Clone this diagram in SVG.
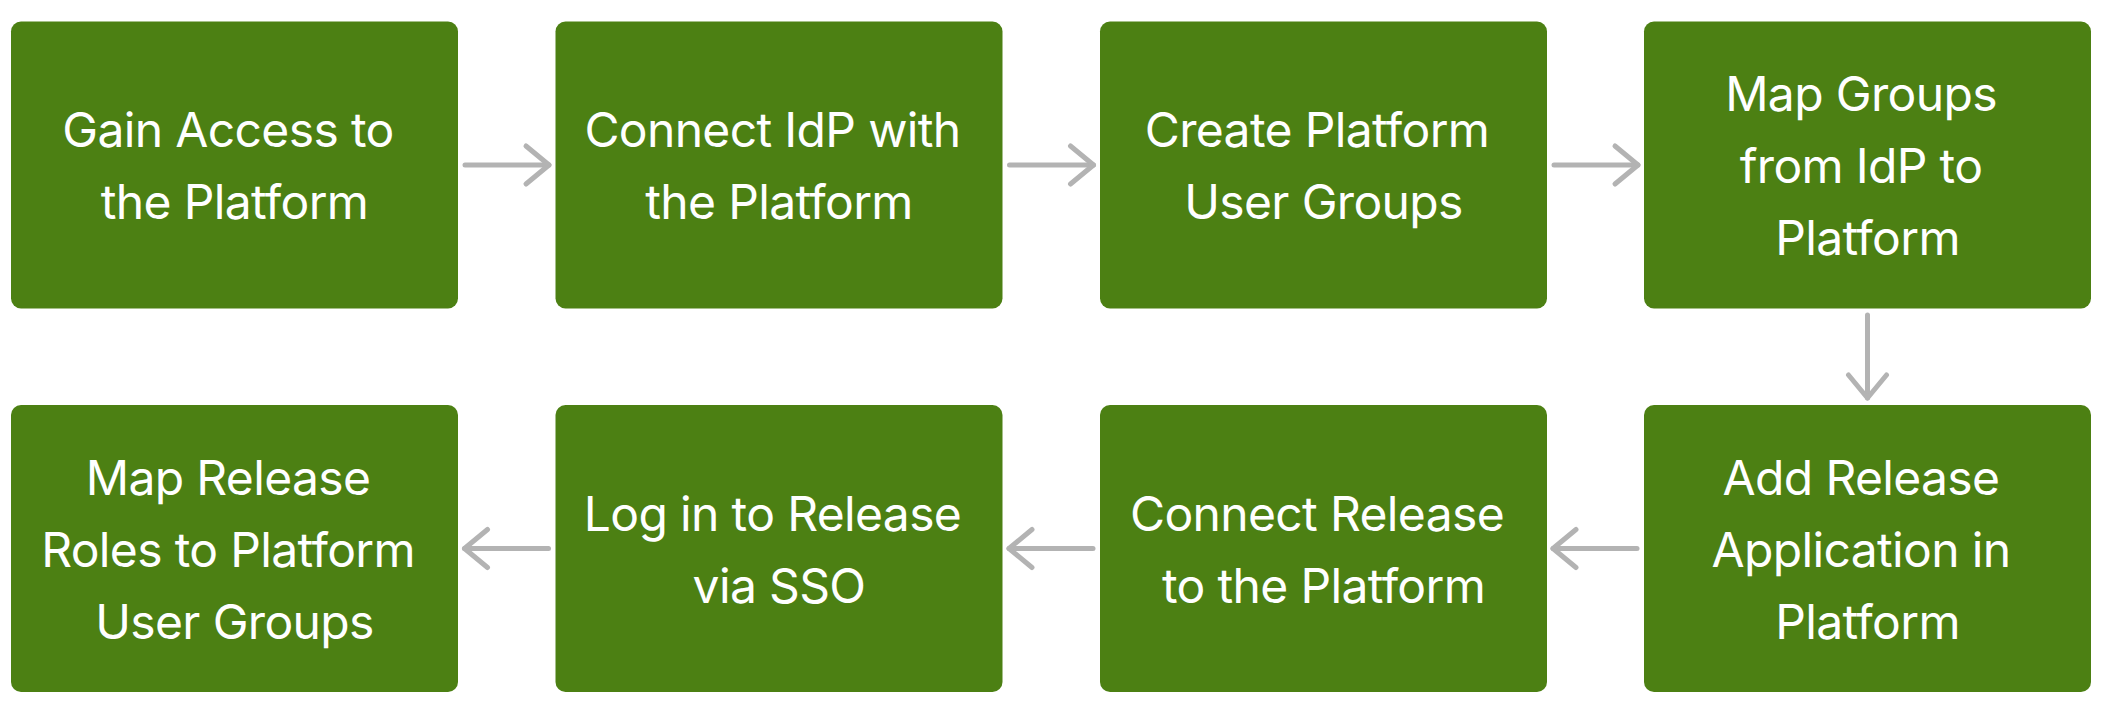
<svg xmlns="http://www.w3.org/2000/svg" width="2103" height="716" viewBox="0 0 2103 716">
  <style>
    .box { fill: #4C8013; }
    .lbl { fill: #ffffff; font-family: Inter, "Liberation Sans", sans-serif; font-size: 48px; letter-spacing: -0.65px; text-anchor: middle; }
    .conn { fill: none; stroke: #B3B3B3; stroke-width: 5; stroke-linecap: round; stroke-linejoin: round; }
  </style>
  <defs>
    <marker id="arrow" markerUnits="userSpaceOnUse" markerWidth="32" markerHeight="46" viewBox="0 0 32 46" refX="27" refY="23" orient="auto">
      <path d="M4,4 L27,23 L4,42" fill="none" stroke="#B3B3B3" stroke-width="5" stroke-linecap="round" stroke-linejoin="round"/>
    </marker>
  </defs>
  <rect width="2103" height="716" fill="#ffffff"/>

  <g id="n1">
    <rect class="box" x="11" y="21.5" width="447" height="287" rx="10"/>
    <text class="lbl"><tspan x="228" y="147">Gain Access to</tspan><tspan x="234.5" y="219">the Platform</tspan></text>
  </g>
  <g id="n2">
    <rect class="box" x="555.5" y="21.5" width="447" height="287" rx="10"/>
    <text class="lbl"><tspan x="772.5" y="147">Connect IdP with</tspan><tspan x="779" y="219">the Platform</tspan></text>
  </g>
  <g id="n3">
    <rect class="box" x="1100" y="21.5" width="447" height="287" rx="10"/>
    <text class="lbl"><tspan x="1317" y="147">Create Platform</tspan><tspan x="1323.5" y="219">User Groups</tspan></text>
  </g>
  <g id="n4">
    <rect class="box" x="1644" y="21.5" width="447" height="287" rx="10"/>
    <text class="lbl"><tspan x="1861" y="111">Map Groups</tspan><tspan x="1861" y="183">from IdP to</tspan><tspan x="1867.5" y="255">Platform</tspan></text>
  </g>
  <g id="n5">
    <rect class="box" x="1644" y="405" width="447" height="287" rx="10"/>
    <text class="lbl"><tspan x="1861" y="495">Add Release</tspan><tspan x="1861" y="567">Application in</tspan><tspan x="1867.5" y="639">Platform</tspan></text>
  </g>
  <g id="n6">
    <rect class="box" x="1100" y="405" width="447" height="287" rx="10"/>
    <text class="lbl"><tspan x="1317" y="531">Connect Release</tspan><tspan x="1323.5" y="603">to the Platform</tspan></text>
  </g>
  <g id="n7">
    <rect class="box" x="555.5" y="405" width="447" height="287" rx="10"/>
    <text class="lbl"><tspan x="772.5" y="531">Log in to Release</tspan><tspan x="779" y="603">via SSO</tspan></text>
  </g>
  <g id="n8">
    <rect class="box" x="11" y="405" width="447" height="287" rx="10"/>
    <text class="lbl"><tspan x="228" y="495">Map Release</tspan><tspan x="228" y="567">Roles to Platform</tspan><tspan x="234.5" y="639">User Groups</tspan></text>
  </g>

  <g id="connectors">
    <path class="conn" d="M465,165 L549,165" marker-end="url(#arrow)"/>
    <path class="conn" d="M1009.5,165 L1093.5,165" marker-end="url(#arrow)"/>
    <path class="conn" d="M1554,165 L1638,165" marker-end="url(#arrow)"/>
    <path class="conn" d="M1867.5,315 L1867.5,398" marker-end="url(#arrow)"/>
    <path class="conn" d="M1637,548.5 L1553,548.5" marker-end="url(#arrow)"/>
    <path class="conn" d="M1093,548.5 L1009,548.5" marker-end="url(#arrow)"/>
    <path class="conn" d="M548.5,548.5 L464.5,548.5" marker-end="url(#arrow)"/>
  </g>
</svg>
